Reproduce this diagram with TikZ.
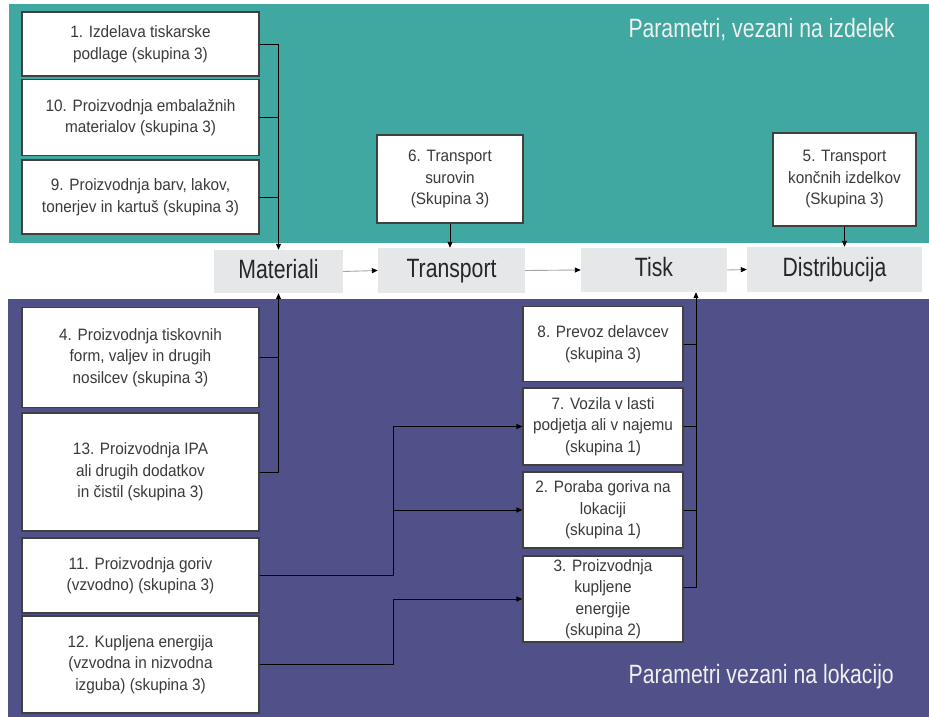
\documentclass[tikz,border=0pt]{standalone}
\usepackage{fontspec}
\setmainfont{Liberation Sans}[FakeStretch=0.93]
\newfontfamily\bigfont{Liberation Sans}[FakeStretch=0.8]
\usetikzlibrary{arrows.meta}
\definecolor{teal1}{HTML}{40A8A1}
\definecolor{blue1}{HTML}{4F5188}
\definecolor{gbg}{HTML}{E6E7E8}
\definecolor{txt}{HTML}{3A3A3A}
\definecolor{bigtxt}{HTML}{262626}
\definecolor{bord}{HTML}{404040}
\tikzset{
  wbox/.style={draw=bord, line width=1.2pt, fill=white, align=center, text=txt,
    font=\fontsize{16.5}{21.5}\selectfont, inner sep=2pt},
  gbox/.style={fill=gbg, text=bigtxt, font=\bigfont\fontsize{26.5}{30}\selectfont, inner sep=0pt,
    text height=19pt, text depth=6pt},
  conn/.style={draw=black, line width=0.9pt},
  arr/.style={-{Triangle[length=6pt,width=5pt]}},
  garr/.style={draw=gray!70, line width=0.9pt, -{Triangle[length=6pt,width=5pt,color=black]}},
  ttl/.style={text=white!94!black, font=\bigfont\fontsize{26.5}{30}\selectfont, inner sep=0pt}
}
\begin{document}
\begin{tikzpicture}[x=1pt,y=-1pt]
\useasboundingbox (0,0) rectangle (929,717);
\fill[white] (0,0) rectangle (929,717);
% panels
\fill[teal1] (9,4) rectangle (929,243);
\fill[blue1] (8,299) rectangle (929,717);
\node[ttl, anchor=base east] (t1) at (895,38) {Parametri, vezani na izdelek};
\node[ttl, anchor=base east] (t2) at (894,683) {Parametri vezani na lokacijo};
% top-left boxes
\node[wbox, minimum width=237pt, minimum height=64pt] (b1) at (140.5,44) {1. Izdelava tiskarske\\podlage (skupina 3)};
\node[wbox, minimum width=237pt, minimum height=76pt] (b10) at (140.5,117.5) {10. Proizvodnja embalažnih\\materialov (skupina 3)};
\node[wbox, minimum width=237pt, minimum height=74pt] (b9) at (140.5,197) {9. Proizvodnja barv, lakov,\\tonerjev in kartuš (skupina 3)};
\node[wbox, minimum width=146pt, minimum height=88pt] (b6) at (450,179) {6. Transport\\surovin\\(Skupina 3)};
\node[wbox, minimum width=143pt, minimum height=93pt] (b5) at (844.5,179.5) {5. Transport\\končnih izdelkov\\(Skupina 3)};
% middle row
\node[gbox, minimum width=129pt, minimum height=43pt] (mat) at (278.5,271.5) {Materiali};
\node[gbox, minimum width=147pt, minimum height=45pt] (tra) at (451.5,270.5) {Transport};
\node[gbox, minimum width=146pt, minimum height=44pt] (tisk) at (654,270) {Tisk};
\node[gbox, minimum width=175pt, minimum height=45pt] (dist) at (834.5,269.5) {Distribucija};
% bottom-left boxes
\node[wbox, minimum width=237pt, minimum height=100pt] (b4) at (140.5,357.5) {4. Proizvodnja tiskovnih\\form, valjev in drugih\\nosilcev (skupina 3)};
\node[wbox, minimum width=237pt, minimum height=118pt] (b13) at (140.5,472) {13. Proizvodnja IPA\\ali drugih dodatkov\\in čistil (skupina 3)};
\node[wbox, minimum width=237pt, minimum height=75pt] (b11) at (140.5,575.5) {11. Proizvodnja goriv\\(vzvodno) (skupina 3)};
\node[wbox, minimum width=237pt, minimum height=97pt] (b12) at (140.5,664.5) {12. Kupljena energija\\(vzvodna in nizvodna\\izguba) (skupina 3)};
% right column boxes
\node[wbox, minimum width=160pt, minimum height=75pt] (b8) at (603,344) {8. Prevoz delavcev\\(skupina 3)};
\node[wbox, minimum width=160pt, minimum height=77pt] (b7) at (603,426.5) {7. Vozila v lasti\\podjetja ali v najemu\\(skupina 1)};
\node[wbox, minimum width=160pt, minimum height=76pt] (b2) at (603,510) {2. Poraba goriva na\\lokaciji\\(skupina 1)};
\node[wbox, minimum width=160pt, minimum height=86pt] (b3) at (603,599) {3. Proizvodnja\\kupljene\\energije\\(skupina 2)};
% helper coordinates
\coordinate (rx) at (696,0);
\coordinate (mx) at (393,0);
% middle arrows
\draw[garr] (mat.east) -- (tra.west);
\draw[garr] (tra.east) -- (tisk.west);
\draw[garr] (tisk.east) -- (dist.west);
% top connectors
\draw[conn,arr] (b1.east) -| (mat.north);
\draw[conn] (b10.east) -- (mat.north |- b10.east);
\draw[conn] (b9.east) -- (mat.north |- b9.east);
\draw[conn,arr] (b6.south) -- (b6.south |- tra.north);
\draw[conn,arr] (b5.south) -- (b5.south |- dist.north);
% bottom-left connectors
\draw[conn,arr] (b13.east) -| (mat.south);
\draw[conn] (b4.east) -- (mat.south |- b4.east);
% right connectors
\draw[conn,arr] ([yshift=12pt]b3.east) -| (rx |- tisk.south);
\draw[conn] (b8.east) -- (rx |- b8.east);
\draw[conn] (b7.east) -- (rx |- b7.east);
\draw[conn] (b2.east) -- (rx |- b2.east);
% left-to-right connectors
\draw[conn,arr] (b11.east) -| (mx |- b7.west) -- (b7.west);
\draw[conn,arr] (mx |- b2.west) -- (b2.west);
\draw[conn,arr] (b12.east) -| (mx |- b3.west) -- (b3.west);
\end{tikzpicture}
\end{document}
